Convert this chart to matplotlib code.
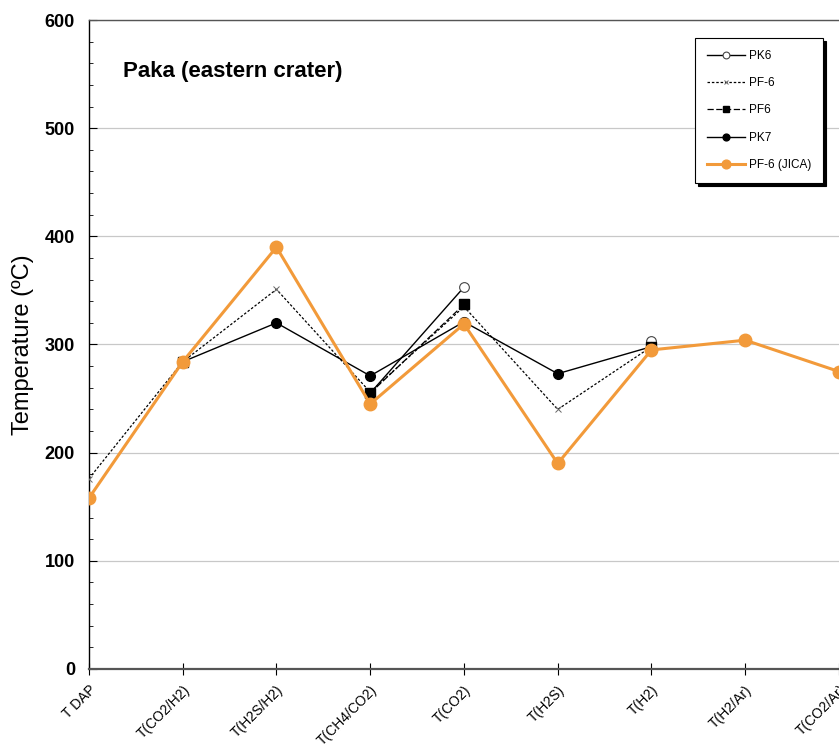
import numpy as np
import matplotlib.pyplot as plt
from matplotlib.ticker import MultipleLocator

plt.rcParams['font.family'] = ['Liberation Sans', 'DejaVu Sans']

categories = ["T DAP", "T(CO2/H2)", "T(H2S/H2)", "T(CH4/CO2)", "T(CO2)",
              "T(H2S)", "T(H2)", "T(H2/Ar)", "T(CO2/Ar)"]
nan = np.nan
pk6 = [nan, 284, nan, 255, 353, nan, 303, nan, nan]
pf_6 = [176, 284, 351, 256, 335, 240, 298, nan, nan]
pf6 = [nan, 284, nan, 255, 337, nan, 298, nan, nan]
pk7 = [nan, 284, 320, 271, 321, 273, 298, nan, nan]
pf6_jica = [158, 284, 390, 245, 319, 190, 295, 304, 275]

x = np.arange(len(categories))

fig = plt.figure(figsize=(8.39, 7.53), dpi=100)
ax = fig.add_axes([0.106, 0.1116, 0.894, 0.8618])

orange = '#F29A3A'
ax.plot(x, pk6, '-', color='black', lw=1.0, marker='o', ms=7,
        mfc='white', mec='#444444', mew=0.8, label='PK6', zorder=4)
ax.plot(x, pf_6, linestyle=(0, (2, 1.5)), color='black', lw=0.9, marker='x', ms=5,
        mec='#666666', mew=0.7, label='PF-6', zorder=3)
ax.plot(x, pf6, linestyle=(0, (5, 2)), color='black', lw=0.9, marker='s', ms=7,
        mfc='black', mec='black', label='PF6', zorder=4)
ax.plot(x, pk7, '-', color='black', lw=1.0, marker='o', ms=7,
        mfc='black', mec='black', label='PK7', zorder=4)
ax.plot(x, pf6_jica, '-', color=orange, lw=2.2, marker='o', ms=9,
        mfc=orange, mec=orange, label='PF-6 (JICA)', zorder=5)

ax.set_xlim(0, 8)
ax.set_ylim(0, 600)
ax.yaxis.set_major_locator(MultipleLocator(100))
ax.yaxis.set_minor_locator(MultipleLocator(20))
ax.set_xticks(x)
ax.set_xticklabels(categories, rotation=45, ha='right', rotation_mode='anchor',
                   fontsize=10)
ax.tick_params(axis='x', direction='inout', length=8, width=0.8, pad=6)
ax.tick_params(axis='y', which='major', direction='in', length=6, labelsize=13, pad=10)
ax.tick_params(axis='y', which='minor', direction='in', length=3)
for lab in ax.get_yticklabels():
    lab.set_fontweight('bold')

ax.grid(axis='y', which='major', color='#c8c8c8', lw=0.9)
ax.set_axisbelow(True)
ax.spines['right'].set_visible(False)
ax.spines['left'].set_linewidth(1.0)
ax.spines['bottom'].set_linewidth(1.6)
ax.spines['bottom'].set_color('#555555')
ax.spines['top'].set_linewidth(1.0)
ax.spines['top'].set_color('#555555')

ax.set_ylabel('Temperature (ºC)', fontsize=17, labelpad=8)
ax.text(0.045, 0.92, 'Paka (eastern crater)', transform=ax.transAxes,
        fontsize=16, fontweight='bold', va='center', ha='left')

leg = ax.legend(loc='upper right', bbox_to_anchor=(0.984, 0.978), fontsize=8.5,
                frameon=True, fancybox=False, edgecolor='black',
                shadow={'color': 'black', 'alpha': 1.0, 'ox': 2, 'oy': -2},
                borderpad=1.0, labelspacing=1.3, handlelength=3.2,
                handletextpad=0.4, markerscale=0.7, borderaxespad=0.3)
leg.get_frame().set_linewidth(0.8)

fig.savefig('out.png', dpi=100)
